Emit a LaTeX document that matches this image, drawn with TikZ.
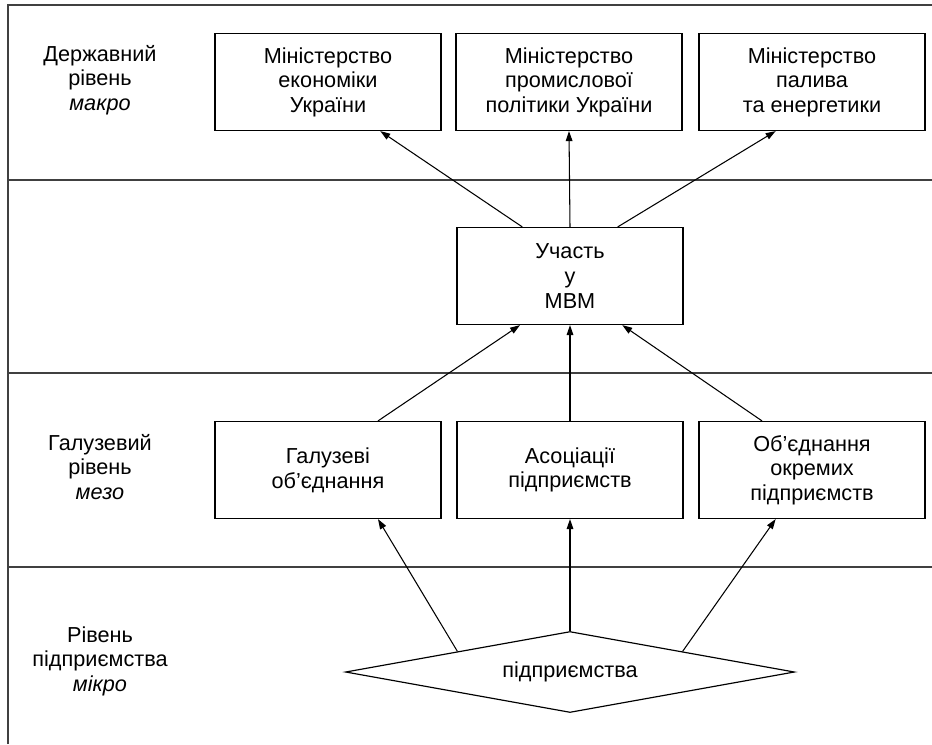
\documentclass[tikz,border=0pt]{standalone}
\usepackage{fontspec}
\setmainfont{Liberation Sans}
\usetikzlibrary{shapes.geometric,arrows.meta,calc}
\begin{document}
\begin{tikzpicture}[x=0.03cm,y=-0.03cm,
    txt/.style={font=\fontsize{18.5}{21}\selectfont, align=center},
    box/.style={txt, draw, line width=1pt, minimum width=6.78cm, minimum height=2.91cm, inner sep=0pt},
    sep/.style={draw=black!75, line width=1.4pt},
    arr/.style={-{Triangle[length=3mm,width=2mm]}, line width=0.9pt}]
    \useasboundingbox (0,0) rectangle (932,744);
    % frame and level separators
    \draw[sep] (8,744) -- (8,5) -- (932,5);
    \foreach \y in {180,373,567}
        \draw[sep] (8,\y) -- (932,\y);
    % level labels
    \node[txt] (lvlmacro) at (100,80) {Державний\\рівень\\\textit{макро}};
    \node[txt] (lvlmeso) at (100,467) {Галузевий\\рівень\\\textit{мезо}};
    \node[txt] (lvlmicro) at (100,661) {Рівень\\підприємства\\\textit{мікро}};
    % ministries
    \node[box] (econ) at (328,82) {Міністерство\\економіки\\України};
    \node[box] (indus) at (569,82) {Міністерство\\промислової\\політики України};
    \node[box] (fuel) at (812,82) {Міністерство\\палива\\та енергетики};
    % participation
    \node[box] (part) at (570,276) {Участь\\у\\МВМ};
    % branch level
    \node[box] (branch) at (328,470) {Галузеві\\об’єднання};
    \node[box] (assoc) at (570,470) {Асоціації\\підприємств};
    \node[box] (union) at (812,470) {Об’єднання\\окремих\\підприємств};
    % enterprises
    \node[txt, draw, diamond, aspect=5.54, line width=1pt, minimum width=13.47cm, minimum height=2.43cm, inner sep=0pt] (firm) at (570,672) {підприємства};
    % arrows up to ministries
    \draw[arr] ($(part.north west)!0.29!(part.north east)$) -- ($(econ.south west)!0.73!(econ.south east)$);
    \draw[arr] (part.north) -- (indus.south);
    \draw[arr] ($(part.north west)!0.71!(part.north east)$) -- ($(fuel.south west)!0.34!(fuel.south east)$);
    % arrows up to participation
    \draw[arr] ($(branch.north west)!0.72!(branch.north east)$) -- ($(part.south west)!0.28!(part.south east)$);
    \draw[arr] (assoc.north) -- (part.south);
    \draw[arr] ($(union.north west)!0.28!(union.north east)$) -- ($(part.south west)!0.73!(part.south east)$);
    % arrows from enterprises
    \draw[arr] (firm.north west) -- ($(branch.south west)!0.72!(branch.south east)$);
    \draw[arr] (firm.north) -- (assoc.south);
    \draw[arr] (firm.north east) -- ($(union.south west)!0.34!(union.south east)$);
\end{tikzpicture}
\end{document}
